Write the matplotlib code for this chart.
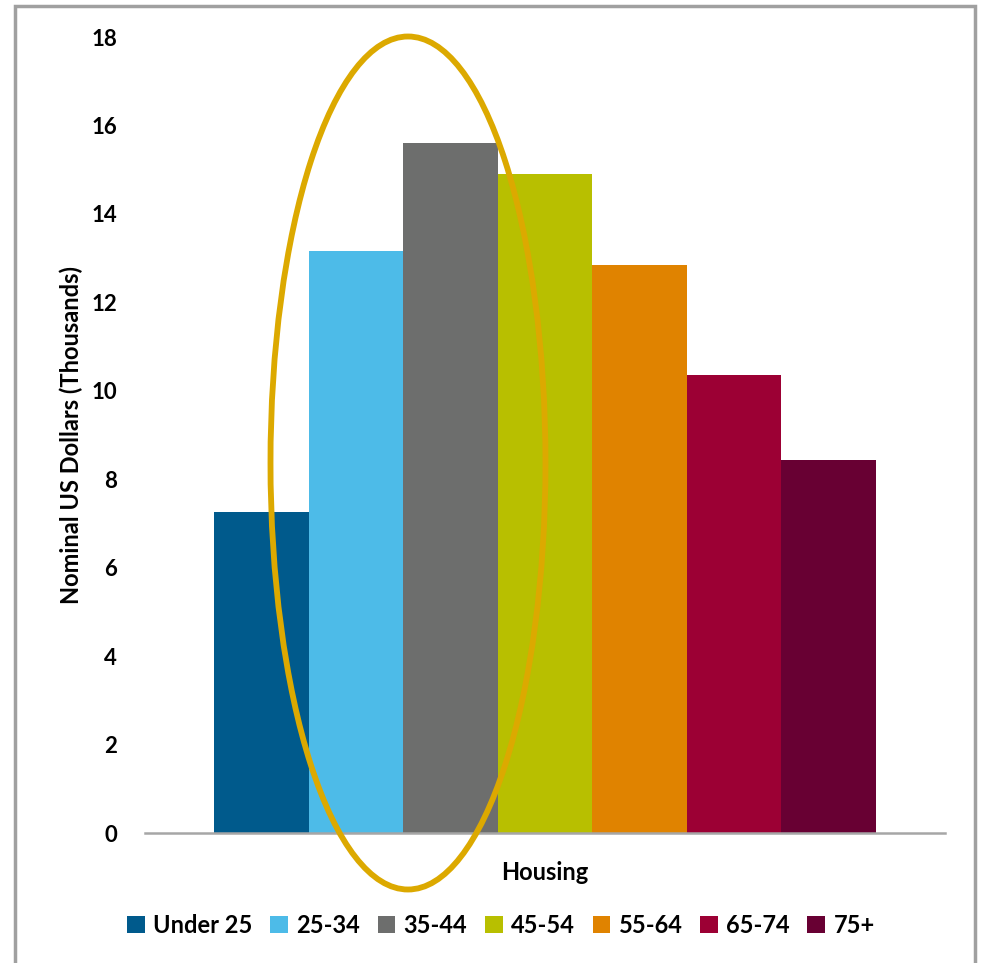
import matplotlib
matplotlib.use("Agg")
import matplotlib.pyplot as plt
from matplotlib.patches import Ellipse, Rectangle

categories = ["Housing"]
age_groups = ["Under 25", "25-34", "35-44", "45-54", "55-64", "65-74", "75+"]
housing_spend = [7.25, 13.17, 15.6, 14.9, 12.85, 10.35, 8.43]
colors = ["#005a8c", "#4dbbe8", "#6d6e6d", "#b8bf00", "#e08300", "#9c0034", "#680033"]
y_ticks = [0, 2, 4, 6, 8, 10, 12, 14, 16, 18]

plt.rcParams["font.family"] = ["Lato", "DejaVu Sans"]

fig = plt.figure(figsize=(9.81, 9.63), dpi=100)
W, H = 981, 963
ax = fig.add_axes([145 / W, 130 / H, 800 / W, 796 / H])

n = len(age_groups)
bw = 0.1182
for i, (lab, val, c) in enumerate(zip(age_groups, housing_spend, colors)):
    ax.bar((i - (n - 1) / 2) * bw, val, width=bw, color=c, label=lab, linewidth=0)

ax.set_xlim(-0.5, 0.5)
ax.set_ylim(0, 18)
ax.set_yticks(y_ticks)
ax.set_yticklabels([str(t) for t in y_ticks], fontsize=16, fontweight="bold")
ax.set_xticks([0])
ax.set_xticklabels(categories, fontsize=17, fontweight="bold")
ax.tick_params(axis="y", length=0, pad=20)
ax.tick_params(axis="x", length=0, pad=20)
ax.set_ylabel("Nominal US Dollars (Thousands)", fontsize=17, fontweight="bold", labelpad=6)
for s in ("left", "top", "right"):
    ax.spines[s].set_visible(False)
ax.spines["bottom"].set_color("#a6a6a6")
ax.spines["bottom"].set_linewidth(1.8)

leg = fig.legend(loc="center", bbox_to_anchor=(501 / W, 38 / H), ncol=n, frameon=False,
                 prop={"size": 17, "weight": "bold"}, handlelength=0.75, handleheight=0.75,
                 handletextpad=0.35, columnspacing=0.75)

# highlight ring around the younger households
ring = Ellipse((408 / W, 1 - 463 / H), 275 / W, 853 / H, transform=fig.transFigure,
               fill=False, edgecolor="#dca900", linewidth=4.2, zorder=10)
fig.add_artist(ring)

# outer frame
frame = Rectangle((15 / W, -0.05), 960 / W, 1.05 - 6 / H, transform=fig.transFigure,
                  fill=False, edgecolor="#a0a0a0", linewidth=2.5)
fig.add_artist(frame)

fig.savefig("out.png", dpi=100, facecolor="white")
